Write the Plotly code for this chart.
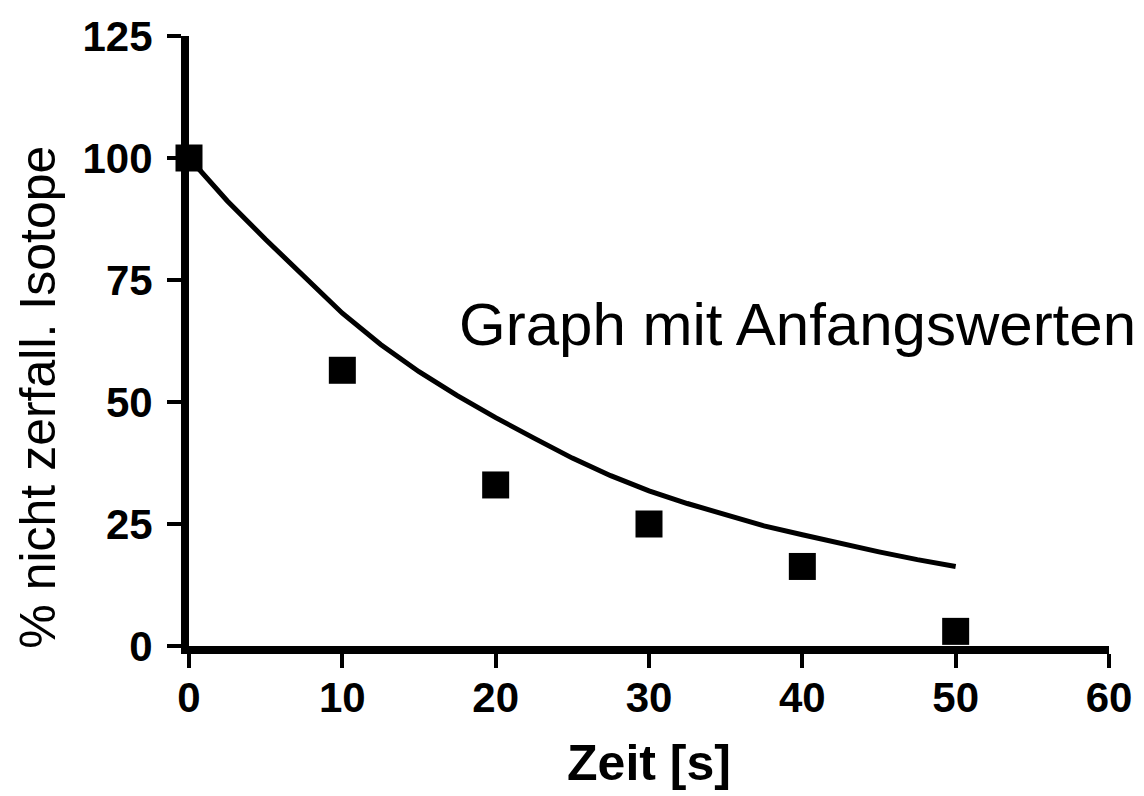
import plotly.graph_objects as go

# Measured data (time in s, % undecayed isotope)
zeit = [0, 10, 20, 30, 40, 50]
prozent = [100, 56.5, 33, 25, 16.3, 3]

# Fitted curve
kurve_x = [0, 2.5, 5, 7.5, 10, 12.5, 15, 17.5, 20, 22.5, 25, 27.5, 30, 32.5, 35, 37.5, 40, 42.5, 45, 47.5, 50]
kurve_y = [100, 91.2, 83.3, 75.6, 68.2, 61.8, 56.2, 51.3, 46.8, 42.6, 38.5, 34.9, 31.8, 29.2, 26.8, 24.6, 22.8, 21.0, 19.3, 17.7, 16.3]

x_ticks = [0, 10, 20, 30, 40, 50, 60]
y_ticks = [0, 25, 50, 75, 100, 125]

FONT = "Liberation Sans, Arial, sans-serif"

W, H = 1144, 796
L, R, T, B = 189, 31, 36, 145
pw, ph = W - L - R, H - T - B


def px_to_paper(px, py):
    return (px - L) / pw, (H - B - py) / ph


fig = go.Figure()
fig.add_trace(go.Scatter(
    x=kurve_x, y=kurve_y, mode="lines",
    line=dict(color="black", width=5),
    cliponaxis=False, showlegend=False, hoverinfo="skip"))
fig.add_trace(go.Scatter(
    x=zeit, y=prozent, mode="markers",
    marker=dict(symbol="square", size=27, color="black", line=dict(width=0)),
    cliponaxis=False, showlegend=False))

ax, ay = px_to_paper(800, 327)
fig.add_annotation(
    x=ax, y=ay, xref="paper", yref="paper", text="Graph mit Anfangswerten",
    showarrow=False, font=dict(family=FONT, size=60, color="black"))

tx, ty = px_to_paper(37, 400)
fig.add_annotation(
    x=tx, y=ty, xref="paper", yref="paper", text="% nicht zerfall. Isotope",
    textangle=-90, showarrow=False, xanchor="center", yanchor="middle",
    font=dict(family=FONT, size=50, color="black"))

fig.update_layout(
    width=W, height=H,
    margin=dict(l=L, r=R, t=T, b=B),
    paper_bgcolor="white", plot_bgcolor="white",
    font=dict(family=FONT, color="black"),
    xaxis=dict(
        range=[0, 60], tickvals=x_ticks, ticktext=[str(v) for v in x_ticks],
        showgrid=False, zeroline=False, showline=True, linecolor="black", linewidth=8,
        ticks="outside", ticklen=14, tickwidth=4, tickcolor="black",
        tickfont=dict(family=FONT, size=42, color="black", weight="bold"),
        ticklabelstandoff=-6,
        title=dict(text="<b>Zeit [s]</b>", font=dict(family=FONT, size=50, color="black"), standoff=28),
    ),
    yaxis=dict(
        range=[0, 125], tickvals=y_ticks, ticktext=[str(v) for v in y_ticks],
        showgrid=False, zeroline=False, showline=True, linecolor="black", linewidth=8,
        ticks="outside", ticklen=14, tickwidth=4, tickcolor="black",
        tickfont=dict(family=FONT, size=42, color="black", weight="bold"),
        ticklabelstandoff=6,
    ),
)

fig.write_html("out.html")
